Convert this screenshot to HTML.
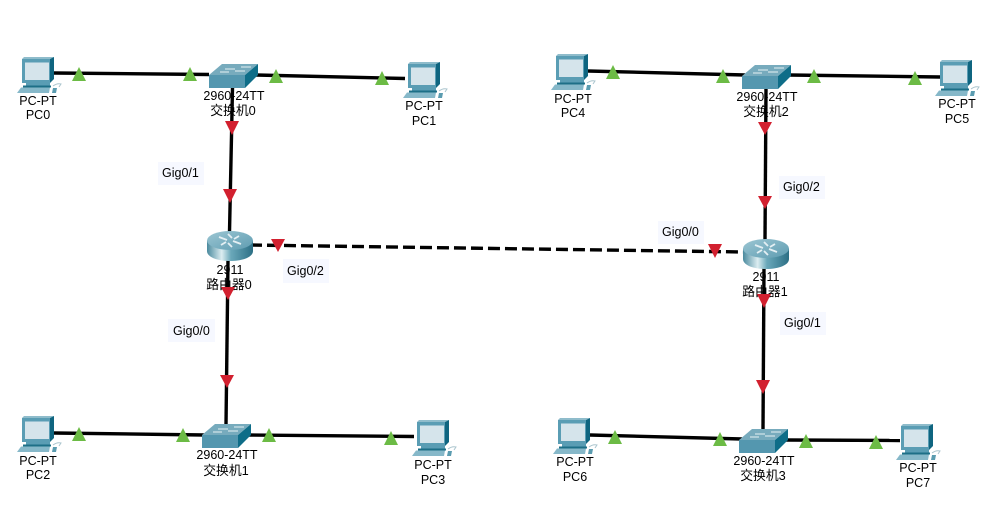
<!DOCTYPE html>
<html>
<head>
<meta charset="utf-8">
<style>
html,body{margin:0;padding:0;background:#fff;width:1007px;height:526px;overflow:hidden}
svg{display:block}
text{font-family:"Liberation Sans","Noto Sans CJK SC",sans-serif;font-size:12.5px;fill:#000;text-anchor:middle}
.c{font-size:12.8px}
.g{font-size:12.5px;text-anchor:start}
.l{stroke:#000;stroke-width:3.4;fill:none}
.gt{fill:#6cbb45}
.rt{fill:#d2202f}
.b{fill:#f6f8ff}
</style>
</head>
<body>
<svg width="1007" height="526" viewBox="0 0 1007 526" xmlns="http://www.w3.org/2000/svg">
<defs>
<linearGradient id="rg" x1="0" x2="1" y1="0" y2="0">
<stop offset="0" stop-color="#4a8a9e"/>
<stop offset=".32" stop-color="#dcedf1"/>
<stop offset=".52" stop-color="#6aa8ba"/>
<stop offset="1" stop-color="#2c6f85"/>
</linearGradient>
<linearGradient id="rt" x1="0" x2="1" y1="0" y2="1">
<stop offset="0" stop-color="#9cc6d3"/>
<stop offset="1" stop-color="#5e9cb1"/>
</linearGradient>
<symbol id="pc" width="46" height="38" viewBox="0 0 46 38" overflow="visible">
<polygon points="5,2 7,0 37,0 33,2" fill="#8fbccb"/>
<polygon points="33,2 37,0 37,22 33,26" fill="#0f6580"/>
<rect x="5" y="2" width="28" height="24" fill="#5a9db4"/>
<rect x="8" y="5.500" width="24" height="17.500" fill="#d5e4eb"/>
<rect x="9" y="26" width="24" height="2.500" fill="#5a9db4"/>
<rect x="6" y="28.500" width="28" height="2" fill="#1d6f87"/>
<polygon points="4,30.500 33,30.500 32,36 0,36" fill="#86b8c9"/>
<polygon points="36,31 40,31 39,36 35,36" fill="#5b9cb0"/>
<path d="M36 29 Q40 26 44 27 L42 30" fill="none" stroke="#a9c4cd" stroke-width="1"/>
</symbol>
<symbol id="sw" width="50" height="25" viewBox="0 0 50 25" overflow="visible">
<polygon points="0,11 13,0 49,0 36,11" fill="#77abbd"/>
<rect x="0" y="11" width="36" height="13" fill="#5497af"/>
<polygon points="36,11 49,0 49,11 36,24" fill="#0e6d88"/>
<path d="M16 5 H26 M32 3 H42 M11 8 H20 M26 7 H36" stroke="#e6f0f3" stroke-width="1"/>
</symbol>
<symbol id="rtr" width="46" height="31" viewBox="0 0 46 31" overflow="visible">
<path d="M0 9.500 V20 C0 26 10 30 23 30 C36 30 46 26 46 20 V9.500 Z" fill="url(#rg)"/>
<ellipse cx="23" cy="9.500" rx="23" ry="9.500" fill="url(#rt)"/>
<path d="M12 6 L20 9 M34 13 L26 10 M21 3 L25 7 M25 16 L21 12 M14 14 L19 11 M32 5 L27 8" stroke="#e4eff3" stroke-width="1.800" fill="none"/>
</symbol>
</defs>

<rect width="1007" height="526" fill="#fff"/>

<!-- links -->
<path class="l" d="M54 73L209 74.500"/>
<path class="l" d="M256 75L405 78.500"/>
<path class="l" d="M54 433L204 435"/>
<path class="l" d="M248 435L414 436.500"/>
<path class="l" d="M588 71L745 75"/>
<path class="l" d="M789 75L940 77"/>
<path class="l" d="M590 435L742 439"/>
<path class="l" d="M785 440L900 440.500"/>
<path class="l" d="M232.500 88L229.500 232"/>
<path class="l" d="M228 260L226 425"/>
<path class="l" d="M766 88L765 240"/>
<path class="l" d="M764 266L763 430"/>
<path class="l" d="M250 245L745 252" stroke-dasharray="12 5"/>

<!-- devices -->
<use href="#pc" x="17" y="57"/>
<use href="#pc" x="403" y="62"/>
<use href="#pc" x="17" y="416"/>
<use href="#pc" x="412" y="420"/>
<use href="#pc" x="551" y="54"/>
<use href="#pc" x="935" y="60"/>
<use href="#pc" x="553" y="418"/>
<use href="#pc" x="896" y="424"/>
<use href="#sw" x="209" y="64"/>
<use href="#sw" x="202" y="424"/>
<use href="#sw" x="742" y="65"/>
<use href="#sw" x="739" y="429"/>
<use href="#rtr" x="207" y="231"/>
<use href="#rtr" x="743" y="239"/>

<!-- port label backgrounds -->
<rect class="b" x="158" y="162" width="46" height="23"/>
<rect class="b" x="283" y="259" width="46" height="24"/>
<rect class="b" x="168" y="319" width="47" height="23"/>
<rect class="b" x="658" y="221" width="46" height="23"/>
<rect class="b" x="780" y="312" width="46" height="23"/>
<rect class="b" x="779" y="176" width="46" height="23"/>

<text class="g" x="162" y="177">Gig0/1</text>
<text class="g" x="287" y="275">Gig0/2</text>
<text class="g" x="173" y="335">Gig0/0</text>
<text class="g" x="662" y="236">Gig0/0</text>
<text class="g" x="784" y="327">Gig0/1</text>
<text class="g" x="783" y="191">Gig0/2</text>

<!-- device labels -->
<text x="38" y="105">PC-PT</text><text x="38" y="119">PC0</text>
<text x="424" y="110">PC-PT</text><text x="424" y="125">PC1</text>
<text x="38" y="465">PC-PT</text><text x="38" y="479">PC2</text>
<text x="433" y="469">PC-PT</text><text x="433" y="484">PC3</text>
<text x="573" y="103">PC-PT</text><text x="573" y="117">PC4</text>
<text x="957" y="108">PC-PT</text><text x="957" y="123">PC5</text>
<text x="575" y="466">PC-PT</text><text x="575" y="481">PC6</text>
<text x="918" y="472">PC-PT</text><text x="918" y="487">PC7</text>

<text x="234" y="100">2960-24TT</text><text class="c" x="233" y="115">交换机0</text>
<text x="227" y="459">2960-24TT</text><text class="c" x="226" y="475">交换机1</text>
<text x="767" y="101">2960-24TT</text><text class="c" x="766" y="116">交换机2</text>
<text x="764" y="465">2960-24TT</text><text class="c" x="763" y="480">交换机3</text>
<text x="230" y="274">2911</text><text class="c" x="229" y="289">路由器0</text>
<text x="766" y="281">2911</text><text class="c" x="765" y="296">路由器1</text>

<!-- green status triangles -->
<polygon class="gt" points="72,81 79,67 86,81"/>
<polygon class="gt" points="183,81 190,67 197,81"/>
<polygon class="gt" points="269,83 276,69 283,83"/>
<polygon class="gt" points="375,85 382,71 389,85"/>
<polygon class="gt" points="72,441 79,427 86,441"/>
<polygon class="gt" points="176,442 183,428 190,442"/>
<polygon class="gt" points="262,442 269,428 276,442"/>
<polygon class="gt" points="384,445 391,431 398,445"/>
<polygon class="gt" points="606,79 613,65 620,79"/>
<polygon class="gt" points="716,83 723,69 730,83"/>
<polygon class="gt" points="807,83 814,69 821,83"/>
<polygon class="gt" points="908,85 915,71 922,85"/>
<polygon class="gt" points="608,444 615,430 622,444"/>
<polygon class="gt" points="713,446 720,432 727,446"/>
<polygon class="gt" points="799,448 806,434 813,448"/>
<polygon class="gt" points="869,449 876,435 883,449"/>

<!-- red status triangles -->
<polygon class="rt" points="225,121 239,121 232,135"/>
<polygon class="rt" points="223,189 237,189 230,203"/>
<polygon class="rt" points="271,239 285,239 278,252"/>
<polygon class="rt" points="221,287 235,287 228,300"/>
<polygon class="rt" points="220,375 234,375 227,388"/>
<polygon class="rt" points="708,244 722,244 715,258"/>
<polygon class="rt" points="757,294 771,294 764,308"/>
<polygon class="rt" points="758,122 772,122 765,135"/>
<polygon class="rt" points="758,196 772,196 765,209"/>
<polygon class="rt" points="756,380 770,380 763,394"/>
</svg>
</body>
</html>
